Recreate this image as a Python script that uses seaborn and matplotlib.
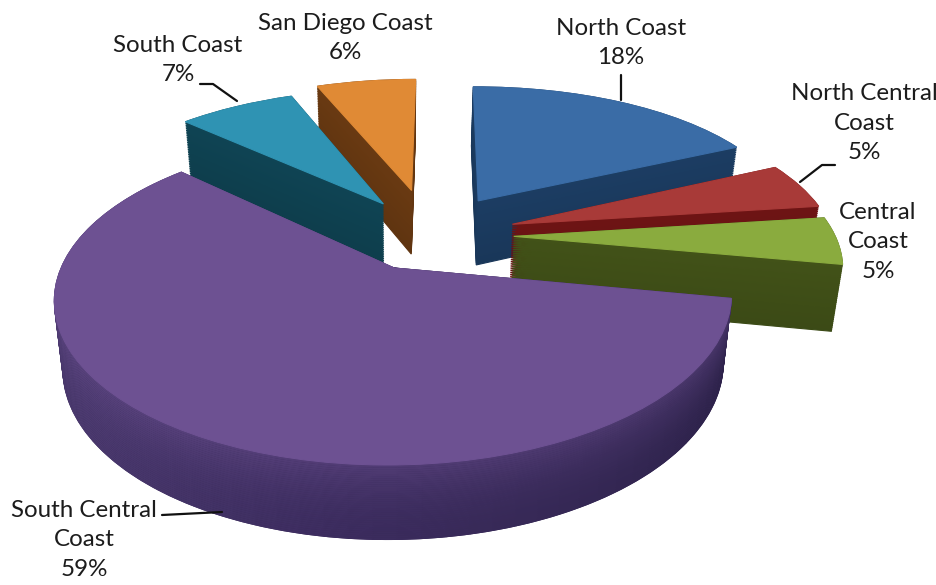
import numpy as np
import matplotlib
matplotlib.use("Agg")
import matplotlib.pyplot as plt
from matplotlib.colors import to_rgb
from matplotlib.patches import Wedge
from matplotlib.transforms import Transform
import seaborn as sns

regions = ["North Coast", "North Central\nCoast", "Central\nCoast",
           "South Central\nCoast", "South Coast", "San Diego Coast"]
shares = [18, 5, 5, 59, 7, 6]
explode = [0.29, 0.27, 0.26, 0.24, 0.27, 0.33]
top_colors = ["#3a6ca6", "#a83a38", "#8aab3e", "#6d5192", "#2f93b3", "#e08a35"]
side_colors = ["#1c3d63", "#6e1414", "#425218", "#3e2e60", "#0f4454", "#6a3a12"]
draw_order = [5, 4, 0, 1, 2, 3]

label_xy = [(621, 43), (864, 123), (878, 242), (84, 540), (178, 60), (345, 38)]
leaders = [([621, 621], [75, 100]),
           ([800, 822, 835], [182, 165, 165]),
           ([200, 213, 237], [84, 84, 101]),
           ([162, 222], [515, 512])]

A, B, G, H = 329.0, 159.0, 0.193, 67.0
OX, OY, XC = 390.0, 268.0, 400.0
N_LAYERS = 36
N_ARC = 60

sns.set_theme(style="white")
plt.rcParams["font.family"] = ["Lato", "DejaVu Sans"]

fracs = np.array(shares) / sum(shares)
mid3 = np.deg2rad(90 - 360 * (fracs[:3].sum() + fracs[3] / 2))
PX, PY = explode[3] * np.cos(mid3), explode[3] * np.sin(mid3)


class Persp(Transform):
    input_dims = output_dims = 2
    is_separable = False
    has_inverse = False
    is_affine = False

    def __init__(self, t):
        super().__init__()
        self.t = t

    def transform_non_affine(self, values):
        values = np.asarray(values, float)
        u = values[:, 0] - PX
        v = values[:, 1] - PY
        d = 1 + G * v
        sx = OX + A * u / d + 4 + 4 * u + 6 * v + 4 * u * v
        sy = OY - B * v / d + H * self.t / (1 + 0.1 * v) - 0.5 * u
        sx = XC + (sx - XC) * (1 - 0.025 * self.t)
        return np.column_stack([sx, sy])


def mix(c1, c2, f):
    a, b = np.array(to_rgb(c1)), np.array(to_rgb(c2))
    return tuple(a + (b - a) * f)


def finish(w):
    w.set_edgecolor(w.get_facecolor())
    w.set_linewidth(0.8)
    w.set_clip_on(False)


fig, ax = plt.subplots(figsize=(9.37, 5.85), dpi=100)
fig.patch.set_facecolor("white")
ax.set_position([0, 0, 1, 1])

rank = {s: r for r, s in enumerate(draw_order)}
for k, t in enumerate(np.linspace(1, 0, N_LAYERS)):
    shade = [mix(c, "#000000", 0.10 * t) for c in side_colors]
    wedges, _ = ax.pie(shares, explode=explode, startangle=90,
                       counterclock=False, colors=shade)
    for i, w in enumerate(wedges):
        finish(w)
        w.set_transform(Persp(t) + ax.transData)
        w.set_zorder(10 + 1000 * rank[i] + k)
    # the long outer wall of the largest slice is lit from the left
    w = wedges[3]
    a0, a1 = w.theta1, w.theta2
    edges = np.linspace(a0, a1, N_ARC + 1)
    for j in range(N_ARC):
        ang = 0.5 * (edges[j] + edges[j + 1]) % 360
        # ang runs 180 (left) -> 270 (front) -> 350 (right)
        f = np.clip((ang - 170) / 180, 0, 1)
        c = mix("#5b4880", "#3d2d60", min(f * 2, 1)) if f < 0.5 else mix("#3d2d60", "#2a2046", (f - 0.5) * 2)
        c = mix(c, "#6d5192", 0.45 * (1 - t) ** 2)
        sub = Wedge(w.center, 1, edges[j], edges[j + 1], facecolor=c,
                    edgecolor=c, linewidth=0.8, clip_on=False)
        sub.set_transform(Persp(t) + ax.transData)
        sub.set_zorder(10 + 1000 * rank[3] + k + 0.5)
        ax.add_patch(sub)

wedges, _ = ax.pie(shares, explode=explode, startangle=90, counterclock=False,
                   colors=top_colors)
for i, w in enumerate(wedges):
    finish(w)
    w.set_transform(Persp(0) + ax.transData)
    w.set_zorder(10 + 1000 * rank[i] + N_LAYERS + 1)

ax.set_aspect("auto")
ax.set_xlim(0, 937)
ax.set_ylim(585, 0)
ax.set_axis_off()

for name, share, (x, y) in zip(regions, shares, label_xy):
    ax.text(x, y, f"{name}\n{share}%", ha="center", va="center",
            fontsize=17.4, color="#1c1c1c", linespacing=1.5, zorder=20000)
for xs, ys in leaders:
    ax.plot(xs, ys, color="#111111", lw=1.6, zorder=19000, solid_capstyle="round")

fig.savefig("out.png", dpi=100, facecolor="white")
